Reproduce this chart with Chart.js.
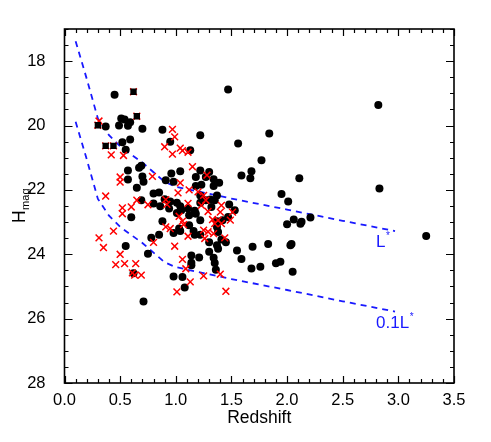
<!DOCTYPE html>
<html>
<head>
<meta charset="utf-8">
<script src="https://cdn.jsdelivr.net/npm/chart.js@4"></script>
<style>
  html, body { margin: 0; padding: 0; background: #fff; }
  #wrap { width: 491px; height: 442px; position: relative; }
</style>
</head>
<body>
<div id="wrap"><canvas id="myChart"></canvas></div>
<script>
// data block
const blackX = [0.45, 1.47, 2.82, 2.83, 3.25, 0.37, 0.51, 0.54, 0.49, 0.57, 0.59, 0.70, 0.52, 0.59, 0.55,
  0.88, 0.95, 1.22, 1.13, 1.56, 1.84, 1.77, 1.68, 1.67, 1.59, 2.11, 1.95, 2.01, 2.21, 2.06, 2.00, 2.12,
  2.03, 1.83, 1.69, 1.55, 1.59, 1.68, 1.76, 1.90, 1.94, 2.05, 1.53, 1.48, 1.47, 1.45, 1.39, 1.34, 1.30,
  1.22, 1.18, 1.23, 1.34, 1.18, 1.22, 1.22, 1.37, 1.35, 1.31, 1.04, 0.96, 0.98, 0.91, 0.69, 0.67, 0.70,
  0.71, 0.57, 0.57, 0.65, 0.69, 0.80, 0.80, 0.85, 0.86, 0.90, 0.95, 0.94, 1.01, 1.01, 1.04, 1.05, 1.11,
  1.12, 1.17, 1.18, 1.22, 1.12, 1.03, 1.04, 0.98, 0.88, 0.85, 0.78, 0.75, 0.55, 0.60, 0.62, 0.71, 0.98,
  1.06, 1.08, 1.14, 1.14, 1.14, 1.21, 1.16, 1.17, 1.22, 1.30, 1.30, 1.34, 1.35, 1.36, 1.38, 1.37, 1.41,
  1.37, 1.38, 1.37, 1.32, 1.27, 1.42, 1.27, 2.04, 2.13];
const blackY = [19.04, 18.88, 19.36, 21.96, 23.43, 20.03, 19.78, 19.81, 20.00, 20.01, 19.90, 20.10, 20.52, 20.43, 20.75,
  20.13, 20.50, 20.30, 20.77, 20.56, 20.25, 21.08, 21.42, 21.64, 21.55, 21.64, 22.13, 22.36, 22.86, 22.92, 23.07, 23.05,
  23.72, 23.68, 23.77, 23.88, 24.15, 24.44, 24.39, 24.28, 24.23, 24.54, 22.63, 22.45, 22.84, 23.63, 21.78, 21.67, 21.44,
  21.40, 21.60, 21.84, 21.88, 21.88, 22.17, 22.40, 22.17, 22.32, 22.30, 21.42, 21.49, 21.75, 21.70, 21.25, 21.31, 21.58,
  21.75, 21.40, 21.68, 21.93, 22.32, 22.11, 22.42, 22.08, 22.51, 22.29, 22.36, 22.58, 22.40, 22.72, 22.51, 22.63, 22.58,
  22.79, 22.65, 22.74, 22.94, 23.10, 23.20, 23.28, 23.34, 22.97, 23.39, 23.49, 23.98, 23.74, 22.85, 24.59, 25.47, 24.69,
  24.71, 25.03, 24.04, 24.26, 24.34, 24.10, 23.28, 23.39, 23.39, 23.63, 23.92, 24.11, 24.27, 24.48, 23.83, 23.72, 23.54,
  23.15, 23.31, 22.97, 22.53, 22.32, 22.94, 21.60, 23.68, 22.99];

const redX = [0.31, 0.42, 0.53, 0.37, 0.50, 0.50, 0.65, 0.52, 0.52, 0.60, 0.44, 0.31, 0.35, 0.50, 0.46,
  0.54, 0.64, 0.61, 0.63, 0.69, 0.79, 0.75, 0.80, 0.97, 0.99, 0.90, 0.97, 1.04, 1.06, 1.11, 1.15, 1.04,
  1.28, 1.12, 1.20, 1.02, 1.25, 1.27, 1.11, 0.91, 0.92, 1.03, 1.06, 1.07, 1.11, 0.91, 0.95, 0.99, 1.06,
  1.09, 1.13, 1.01, 1.25, 1.40, 1.45, 1.25, 1.26, 1.29, 1.29, 1.33, 1.35, 1.38, 1.40, 1.41, 1.41, 1.44,
  1.49, 1.51, 1.34, 1.23, 0.62, 0.65, 0.30, 0.37, 0.44];
const redY = [19.86, 20.91, 20.93, 22.19, 21.60, 21.76, 22.32, 22.56, 22.74, 22.53, 23.28, 23.49, 23.79, 24.00, 24.32,
  24.29, 24.29, 24.58, 24.65, 24.65, 21.58, 22.46, 23.63, 20.12, 20.35, 20.66, 20.89, 20.70, 20.78, 20.83, 21.28, 21.78,
  21.54, 22.00, 22.06, 22.09, 22.17, 22.32, 22.42, 22.30, 22.45, 22.82, 22.97, 23.08, 23.44, 23.15, 23.20, 23.75, 24.16,
  24.45, 24.86, 25.17, 24.67, 24.62, 25.15, 23.25, 23.51, 23.30, 22.67, 22.92, 23.05, 22.94, 22.69, 22.48, 23.05, 23.49,
  22.94, 22.69, 23.36, 22.48, 18.95, 19.71, 19.99, 20.63, 20.63];

// points where a dot and a cross coincide (drawn as black squares)
const boxX = [0.62, 0.65, 0.30, 0.37, 0.44];
const boxY = [18.95, 19.71, 19.99, 20.63, 20.63];

// luminosity limit curves
const curveX = [0.10, 0.20, 0.30, 0.40, 0.50, 0.60, 0.70, 0.80, 0.90, 1.00, 1.50, 2.00, 2.50, 2.97];
const lstarY = [17.38, 18.55, 19.78, 20.30, 20.65, 20.90, 21.15, 21.45, 21.75, 21.90, 22.27, 22.61, 22.96, 23.28];
const tenthY = [19.88, 21.05, 22.28, 22.80, 23.15, 23.40, 23.65, 23.95, 24.25, 24.40, 24.77, 25.11, 25.46, 25.78];

const xTicks = [0.0, 0.5, 1.0, 1.5, 2.0, 2.5, 3.0, 3.5];
const yTicks = [18, 20, 22, 24, 26, 28];

const pts = (xs, ys) => xs.map((x, i) => ({ x: x, y: ys[i] }));
const FONT = "'Liberation Sans', Arial, Helvetica, sans-serif";
const BLUE = 'rgb(25,25,255)';

// box + inward ticks on all 4 sides, y title, curve labels
const framePlugin = {
  id: 'frame',
  afterDraw(chart) {
    const ctx = chart.ctx;
    const a = chart.chartArea;
    const xs = chart.scales.x, ys = chart.scales.y;
    ctx.save();
    ctx.strokeStyle = '#000';
    ctx.lineWidth = 1.2;
    for (let v = 0; v <= 3.5001; v += 0.1) {
      const px = Math.round(xs.getPixelForValue(v)) + 0.5;
      const major = Math.abs(v * 2 - Math.round(v * 2)) < 1e-6;
      const len = major ? 7 : 4;
      ctx.beginPath();
      ctx.moveTo(px, a.bottom); ctx.lineTo(px, a.bottom - len);
      ctx.moveTo(px, a.top); ctx.lineTo(px, a.top + len);
      ctx.stroke();
    }
    for (let v = 17; v <= 28.0001; v += 0.5) {
      const py = Math.round(ys.getPixelForValue(v)) + 0.5;
      const major = Math.abs(v / 2 - Math.round(v / 2)) < 1e-6;
      const len = major ? 8 : 4;
      ctx.beginPath();
      ctx.moveTo(a.left, py); ctx.lineTo(a.left + len, py);
      ctx.moveTo(a.right, py); ctx.lineTo(a.right - len, py);
      ctx.stroke();
    }
    ctx.lineWidth = 1.6;
    ctx.strokeRect(a.left, a.top, a.right - a.left, a.bottom - a.top);

    // y title H_mag
    ctx.fillStyle = '#000';
    ctx.translate(25, (a.top + a.bottom) / 2);
    ctx.rotate(-Math.PI / 2);
    ctx.textBaseline = 'alphabetic';
    ctx.font = '17.5px ' + FONT;
    const wH = ctx.measureText('H').width;
    ctx.font = '11px ' + FONT;
    const wM = ctx.measureText('mag').width;
    const x0 = -(wH + wM) / 2;
    ctx.font = '17.5px ' + FONT;
    ctx.fillText('H', x0, 0);
    ctx.font = '11px ' + FONT;
    ctx.fillText('mag', x0 + wH + 0.5, 4);
    ctx.restore();

    // curve labels
    ctx.save();
    ctx.fillStyle = BLUE;
    ctx.textBaseline = 'middle';
    const label = (txt, x, y) => {
      const px = xs.getPixelForValue(x), py = ys.getPixelForValue(y);
      ctx.font = '17px ' + FONT;
      ctx.fillText(txt, px, py);
      const w = ctx.measureText(txt).width;
      ctx.font = '10px ' + FONT;
      ctx.fillText('*', px + w + 0.5, py - 6);
    };
    label('L', 2.80, 23.62);
    label('0.1L', 2.80, 26.13);
    ctx.restore();
  }
};

const config = {
  type: 'scatter',
  data: {
    datasets: [
      { label: 'box', data: pts(boxX, boxY), order: 0, pointStyle: 'rect',
        pointRadius: 4.5, backgroundColor: '#000', borderColor: '#000', borderWidth: 0 },
      { label: 'cross', data: pts(redX, redY), order: 1, pointStyle: 'crossRot',
        pointRadius: 4.8, borderColor: 'rgb(255,0,0)', backgroundColor: 'rgb(255,0,0)', borderWidth: 1.5 },
      { label: 'dot', data: pts(blackX, blackY), order: 2, pointStyle: 'circle',
        pointRadius: 4, backgroundColor: '#000', borderColor: '#000', borderWidth: 0 },
      { label: 'Lstar', type: 'line', data: pts(curveX, lstarY), order: 3, showLine: true,
        borderColor: BLUE, borderWidth: 1.8, borderDash: [6, 5], pointRadius: 0, fill: false },
      { label: 'tenthLstar', type: 'line', data: pts(curveX, tenthY), order: 3, showLine: true,
        borderColor: BLUE, borderWidth: 1.8, borderDash: [6, 5], pointRadius: 0, fill: false }
    ]
  },
  options: {
    responsive: true,
    maintainAspectRatio: false,
    animation: false,
    layout: { padding: { top: 29, right: 37, left: 0, bottom: 0 } },
    plugins: { legend: { display: false }, tooltip: { enabled: false } },
    scales: {
      x: {
        type: 'linear', min: 0, max: 3.5,
        grid: { display: false }, border: { display: false },
        afterBuildTicks: s => { s.ticks = xTicks.map(v => ({ value: v })); },
        afterFit: s => { s.height = 59; },
        ticks: { color: '#000', padding: 0, maxRotation: 0, autoSkip: false,
          font: { family: FONT, size: 16.5 }, callback: v => v.toFixed(1) },
        title: { display: true, text: 'Redshift', color: '#000',
          font: { family: FONT, size: 17.5 }, padding: { top: 0, bottom: 13 } }
      },
      y: {
        type: 'linear', min: 17, max: 28, reverse: true,
        grid: { display: false }, border: { display: false },
        afterBuildTicks: s => { s.ticks = yTicks.map(v => ({ value: v })); },
        afterFit: s => { s.width = 64.5; },
        ticks: { color: '#000', padding: 11, autoSkip: false,
          font: { family: FONT, size: 16.5 } }
      }
    }
  },
  plugins: [framePlugin]
};

const myChart = new Chart(document.getElementById('myChart'), config);
</script>
</body>
</html>
